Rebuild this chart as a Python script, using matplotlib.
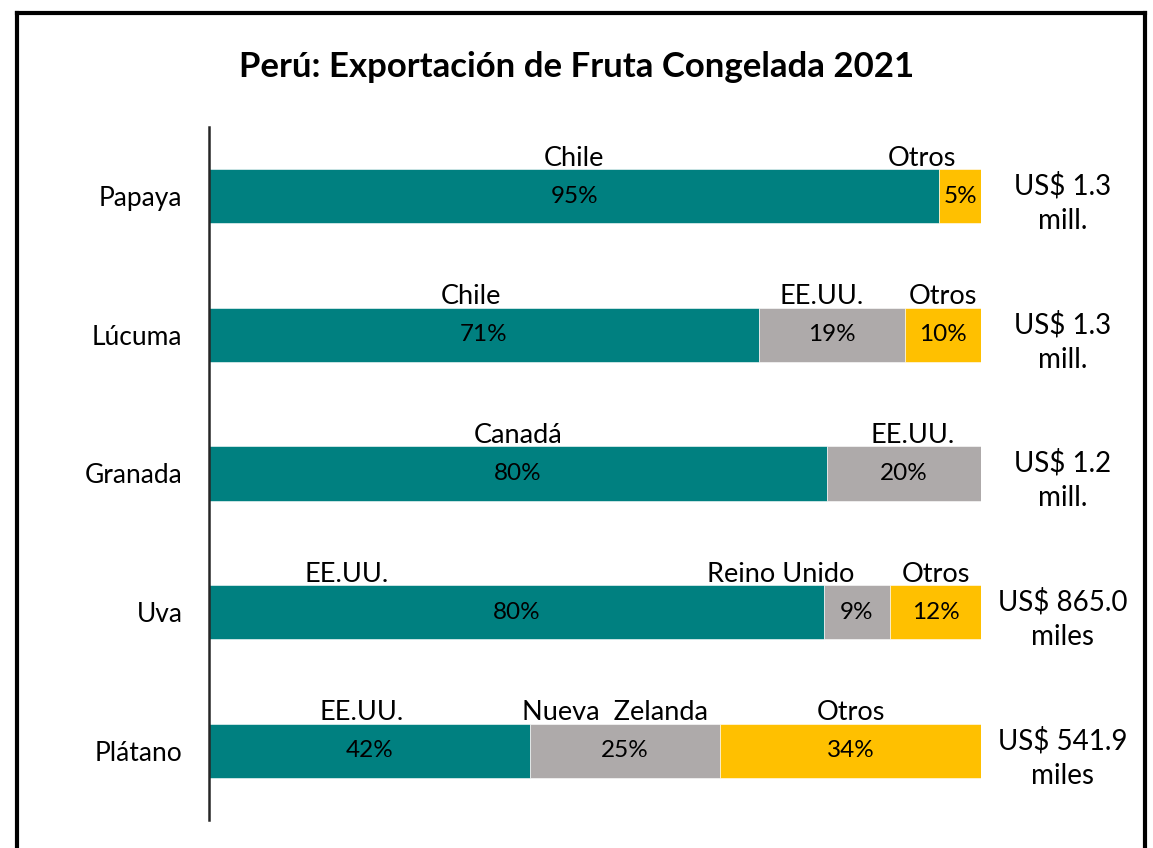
import matplotlib
matplotlib.use("Agg")
import matplotlib.pyplot as plt
from matplotlib import font_manager
from matplotlib.lines import Line2D

# fuente parecida a Calibri (estrecha)
disponibles = {f.name for f in font_manager.fontManager.ttflist}
fuente = next((f for f in ['Liberation Sans Narrow', 'Lato', 'DejaVu Sans'] if f in disponibles))
plt.rcParams['font.family'] = [fuente, 'DejaVu Sans']

# datos
frutas = ['Papaya', 'Lúcuma', 'Granada', 'Uva', 'Plátano']
destinos = [['Chile', 'Otros'],
            ['Chile', 'EE.UU.', 'Otros'],
            ['Canadá', 'EE.UU.'],
            ['EE.UU.', 'Reino Unido', 'Otros'],
            ['EE.UU.', 'Nueva  Zelanda', 'Otros']]
participacion = [[94.6, 5.4],
                 [71.2, 19.0, 9.8],
                 [80.0, 20.0],
                 [79.6, 8.6, 11.8],
                 [41.6, 24.6, 33.8]]
montos = ['US$ 1.3\nmill.', 'US$ 1.3\nmill.', 'US$ 1.2\nmill.',
          'US$ 865.0\nmiles', 'US$ 541.9\nmiles']

# desplazamiento manual de algunas etiquetas de destino (en puntos %)
desplaz = {(0, 1): -4.9, (1, 0): -1.7, (1, 1): -1.4, (2, 1): 1.2,
           (3, 0): -22.0, (3, 1): -9.8, (4, 0): -1.0, (4, 1): -1.3}

verde = '#008080'
gris = '#AEAAAA'
amarillo = '#FFC000'

fig = plt.figure(figsize=(11.53, 8.48), dpi=100)
ax = fig.add_axes([209 / 1153, 1 - 820 / 848, (981 - 209) / 1153, (820 - 127) / 848])

alto = 0.39
for i, (dest, vals) in enumerate(zip(destinos, participacion)):
    izq = 0
    for j, (d, v) in enumerate(zip(dest, vals)):
        if j == 0:
            col = verde
        elif d == 'Otros':
            col = amarillo
        else:
            col = gris
        ax.barh(i, v, left=izq, height=alto, color=col, edgecolor='white', linewidth=0.4)
        centro = izq + v / 2
        ax.text(centro, i, f'{round(v):.0f}%', ha='center', va='center', fontsize=17.5, color='black')
        ax.text(centro + desplaz.get((i, j), 0), i - alto / 2 - 0.025, d,
                ha='center', va='baseline', fontsize=19.5, color='black')
        izq += v
    ax.text(110.6, i + 0.05, montos[i], ha='center', va='center', fontsize=20,
            linespacing=1.4, clip_on=False)

ax.set_xlim(0, 100)
ax.set_ylim(4.5, -0.5)
ax.set_yticks(range(len(frutas)))
ax.set_yticklabels(frutas, fontsize=19)
ax.tick_params(axis='y', length=0, pad=19)
ax.set_xticks([])
for s in ['top', 'right', 'bottom']:
    ax.spines[s].set_visible(False)
ax.spines['left'].set_linewidth(1.8)
ax.spines['left'].set_color('#262626')

fig.text(0.5, 1 - 67 / 848, 'Perú: Exportación de Fruta Congelada 2021', ha='center', va='center',
         fontsize=25, fontweight='bold')

# marco (sin borde inferior, como en el original recortado)
x0, x1, y0 = 17 / 1153, 1145 / 1153, 1 - 13 / 848
for xs, ys in [([x0, x0], [0, y0]), ([x0, x1], [y0, y0]), ([x1, x1], [y0, 0])]:
    fig.add_artist(Line2D(xs, ys, transform=fig.transFigure, color='black', linewidth=3))

fig.savefig('out.png', dpi=100)
